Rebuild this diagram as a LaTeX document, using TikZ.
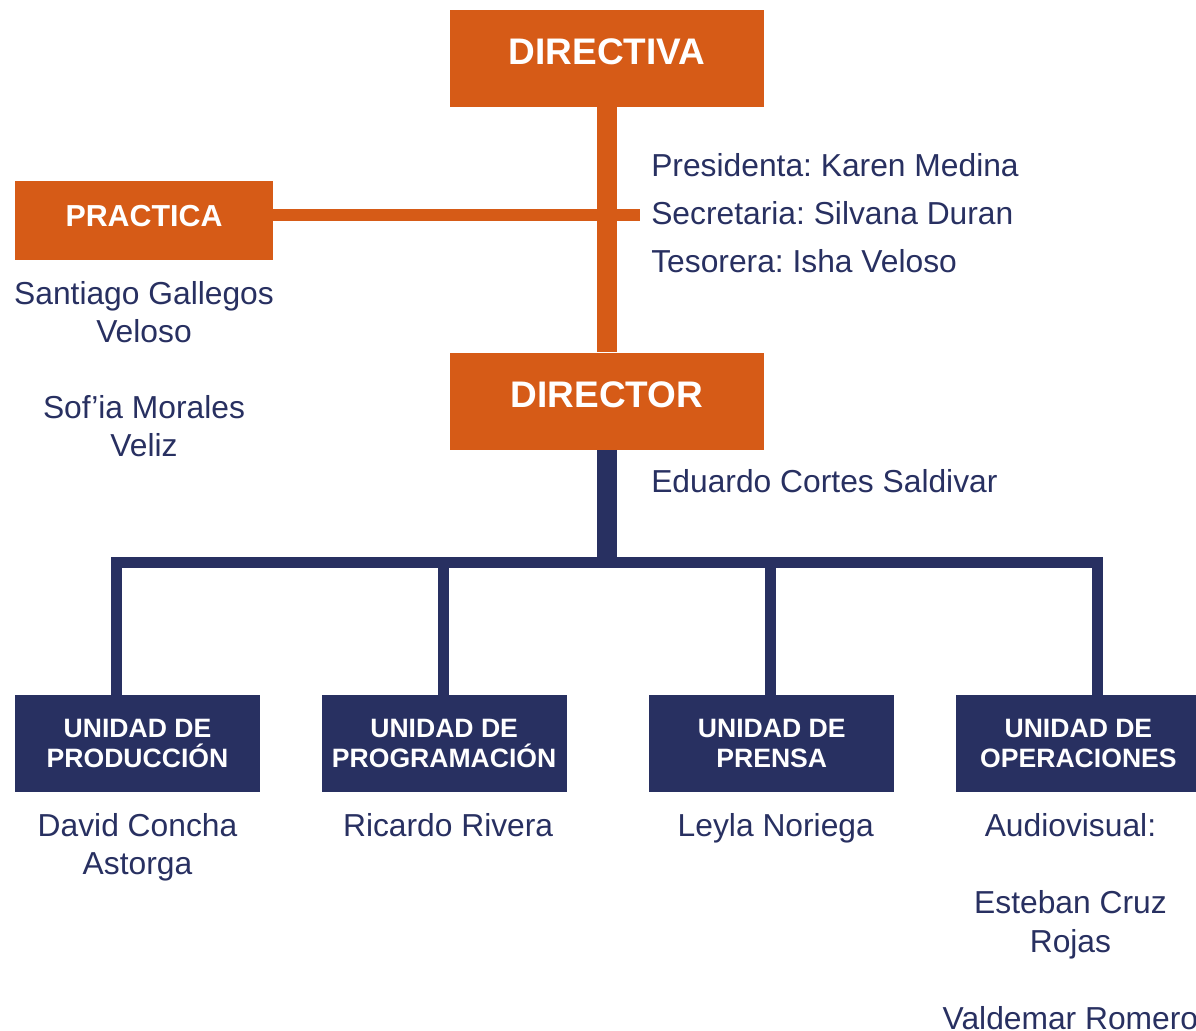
\documentclass[tikz,border=0pt]{standalone}
\usepackage{fontspec}
\setmainfont{Liberation Sans}
\usetikzlibrary{positioning}
\definecolor{naranja}{HTML}{D65B17}
\definecolor{marino}{HTML}{283061}
\frenchspacing

\begin{document}
\begin{tikzpicture}[
    x=0.025cm, y=-0.025cm,
    node distance=1cm,
    cargo/.style={rectangle, minimum width=7.85cm, minimum height=2.425cm, inner sep=0pt,
                  text centered, fill=naranja, text=white, text depth=0.35cm,
                  font=\fontsize{26.3pt}{30pt}\selectfont\bfseries},
    cargochico/.style={rectangle, minimum width=6.45cm, minimum height=1.975cm, inner sep=0pt,
                  text centered, fill=naranja, text=white, text depth=0.225cm,
                  font=\fontsize{21.6pt}{25pt}\selectfont\bfseries},
    unidad/.style={rectangle, minimum width=6.125cm, minimum height=2.425cm, inner sep=0pt,
                  align=center, fill=marino, text=white,
                  font=\fontsize{18.9pt}{22pt}\selectfont\bfseries},
    nombres/.style={inner sep=0pt, align=center, text=marino,
                  font=\fontsize{22.6pt}{27.4pt}\selectfont},
    ramaN/.style={draw=naranja, line width=0.5cm},
    ramaNfina/.style={draw=naranja, line width=0.275cm},
    ramaM/.style={draw=marino, line width=0.5cm},
    ramaMfina/.style={draw=marino, line width=0.275cm, line cap=rect}
]
\useasboundingbox (0,0) rectangle (1196,1031);

\node (directiva) [cargo] at (607,58.5) {DIRECTIVA};
\node (director) [cargo, below=6.125cm of directiva] {DIRECTOR};
\node (practica) [cargochico] at (144,220.5) {PRACTICA};

\node (mesa) [nombres, align=left, anchor=west, font=\fontsize{22.6pt}{34.1pt}\selectfont] at (651,213)
    {Presidenta: Karen Medina\\Secretaria: Silvana Duran\\Tesorera: Isha Veloso};
\node (eduardo) [nombres, anchor=west] at (651,481) {Eduardo Cortes Saldivar};
\node (practicantes) [nombres, below=0.52cm of practica]
    {Santiago Gallegos\\Veloso\\[26pt]Sof’ia Morales\\Veliz};

\node (prod) [unidad] at (137.5,743.5) {UNIDAD DE\\PRODUCCIÓN};
\node (prog) [unidad, right=1.525cm of prod] {UNIDAD DE\\PROGRAMACIÓN};
\node (prensa) [unidad, right=2.05cm of prog] {UNIDAD DE\\PRENSA};
\node (oper) [unidad, right=1.525cm of prensa] {UNIDAD DE\\OPERACIONES};

\node (prodnom) [nombres, below=0.52cm of prod] {David Concha\\Astorga};
\node (prognom) [nombres, below=0.52cm of prog, xshift=0.1cm] {Ricardo Rivera};
\node (prensanom) [nombres, below=0.52cm of prensa, xshift=0.1cm] {Leyla Noriega};
\node (opernom) [nombres, below=0.52cm of oper, xshift=-0.2cm]
    {Audiovisual:\\[27.4pt]Esteban Cruz\\Rojas\\[27.4pt]Valdemar Romero};

\coordinate (enlace) at (640,215);
\coordinate (b1) at (116,562);
\coordinate (b2) at (443,562);
\coordinate (b3) at (770,562);
\coordinate (b4) at (1097,562);

\draw [ramaN] (directiva) -- (director);
\draw [ramaNfina] (practica.east |- enlace) -- (enlace);
\draw [ramaM] (director) -- (director |- b1);
\draw [ramaMfina] (b1) -- (b4);
\foreach \u/\b in {prod/b1, prog/b2, prensa/b3, oper/b4}
    \draw [ramaMfina] (\b) -- (\b |- \u.north);

\end{tikzpicture}
\end{document}
